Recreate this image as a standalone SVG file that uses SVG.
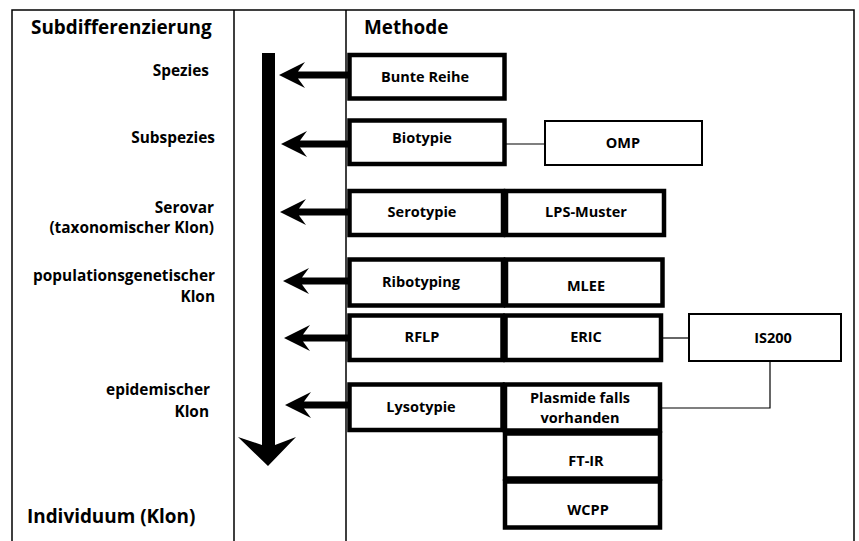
<svg xmlns="http://www.w3.org/2000/svg" xmlns:xlink="http://www.w3.org/1999/xlink" width="859" height="541" viewBox="0 0 859 541">
<defs>
<style>
text{font-family:"Open Sans","Noto Sans","Liberation Sans",sans-serif;font-weight:bold;fill:#000}
.h{font-size:18.9px}
.l{font-size:15.4px;text-anchor:end}
.m{font-size:14.5px;text-anchor:middle}
.frame{fill:none;stroke:#000;stroke-width:1.5}
.thick{fill:#fff;stroke:#000;stroke-width:4.5}
.thin{fill:#fff;stroke:#000;stroke-width:2}
.conn{fill:none;stroke:#000;stroke-width:1.2}
</style>
<path id="la" d="M0,0 L26,-13 L19,-3.5 L70,-3.5 L70,3.5 L19,3.5 L26,13 Z" fill="#000"/>
</defs>
<rect width="859" height="541" fill="#fff"/>
<g id="frame">
<path class="frame" d="M12,541 V10 H854 V541 M234,10 V541 M346,10 V541"/>
</g>
<g id="headers">
<text class="h" x="31" y="34">Subdifferenzierung</text>
<text class="h" x="364" y="34">Methode</text>
</g>
<g id="levels">
<text class="l" x="209" y="76">Spezies</text>
<text class="l" x="215" y="143">Subspezies</text>
<text class="l" x="214" y="213">Serovar</text>
<text class="l" x="214" y="233">(taxonomischer Klon)</text>
<text class="l" x="215" y="281">populationsgenetischer</text>
<text class="l" x="215" y="302">Klon</text>
<text class="l" x="210" y="395">epidemischer</text>
<text class="l" x="209" y="417">Klon</text>
<text class="h" x="27" y="523">Individuum (Klon)</text>
</g>
<g id="connectors">
<path id="bigarrow" d="M262,53 H275 V445 L296,437 L268,466 L238,437 L262,445 Z" fill="#000"/>
<use href="#la" xlink:href="#la" transform="translate(279,75)"/>
<use href="#la" xlink:href="#la" transform="translate(281,144)"/>
<use href="#la" xlink:href="#la" transform="translate(280,212)"/>
<use href="#la" xlink:href="#la" transform="translate(283,281)"/>
<use href="#la" xlink:href="#la" transform="translate(284,338)"/>
<use href="#la" xlink:href="#la" transform="translate(285,405)"/>
<path class="conn" d="M506,144 H545"/>
<path class="conn" d="M663,338 H689"/>
<path class="conn" d="M662,408 H770 V361"/>
</g>
<g id="bunte-reihe"><rect class="thick" x="349.5" y="55" width="155" height="43.5"/><text class="m" x="425" y="82">Bunte Reihe</text></g>
<g id="biotypie"><rect class="thick" x="349.5" y="120.5" width="155" height="43.5"/><text class="m" x="422" y="143">Biotypie</text></g>
<g id="omp"><rect class="thin" x="545" y="121" width="157" height="44"/><text class="m" x="623" y="148">OMP</text></g>
<g id="serotypie"><rect class="thick" x="349.5" y="191" width="153.5" height="44"/><text class="m" x="422" y="217">Serotypie</text></g>
<g id="lps-muster"><rect class="thick" x="506" y="191" width="158" height="44"/><text class="m" x="586" y="217">LPS-Muster</text></g>
<g id="ribotyping"><rect class="thick" x="349.5" y="259.5" width="153.5" height="46"/><text class="m" x="421" y="287">Ribotyping</text></g>
<g id="mlee"><rect class="thick" x="506" y="259.5" width="156.5" height="46"/><text class="m" x="586" y="291">MLEE</text></g>
<g id="rflp"><rect class="thick" x="349.5" y="315.5" width="153" height="44.5"/><text class="m" x="422" y="342">RFLP</text></g>
<g id="eric"><rect class="thick" x="505.5" y="315.5" width="155.5" height="44.5"/><text class="m" x="586" y="342">ERIC</text></g>
<g id="is200"><rect class="thin" x="689" y="314" width="152" height="47"/><text class="m" x="773" y="343">IS200</text></g>
<g id="lysotypie"><rect class="thick" x="349.5" y="384.5" width="153" height="45.5"/><text class="m" x="421" y="412">Lysotypie</text></g>
<g id="plasmide"><rect class="thick" x="505" y="384.5" width="155" height="46"/><text class="m" x="580" y="403">Plasmide falls</text><text class="m" x="580" y="423">vorhanden</text></g>
<g id="ft-ir"><rect class="thick" x="505" y="433.5" width="155" height="45"/><text class="m" x="586" y="466">FT-IR</text></g>
<g id="wcpp"><rect class="thick" x="505" y="481.5" width="155" height="46"/><text class="m" x="588" y="515">WCPP</text></g>
</svg>
